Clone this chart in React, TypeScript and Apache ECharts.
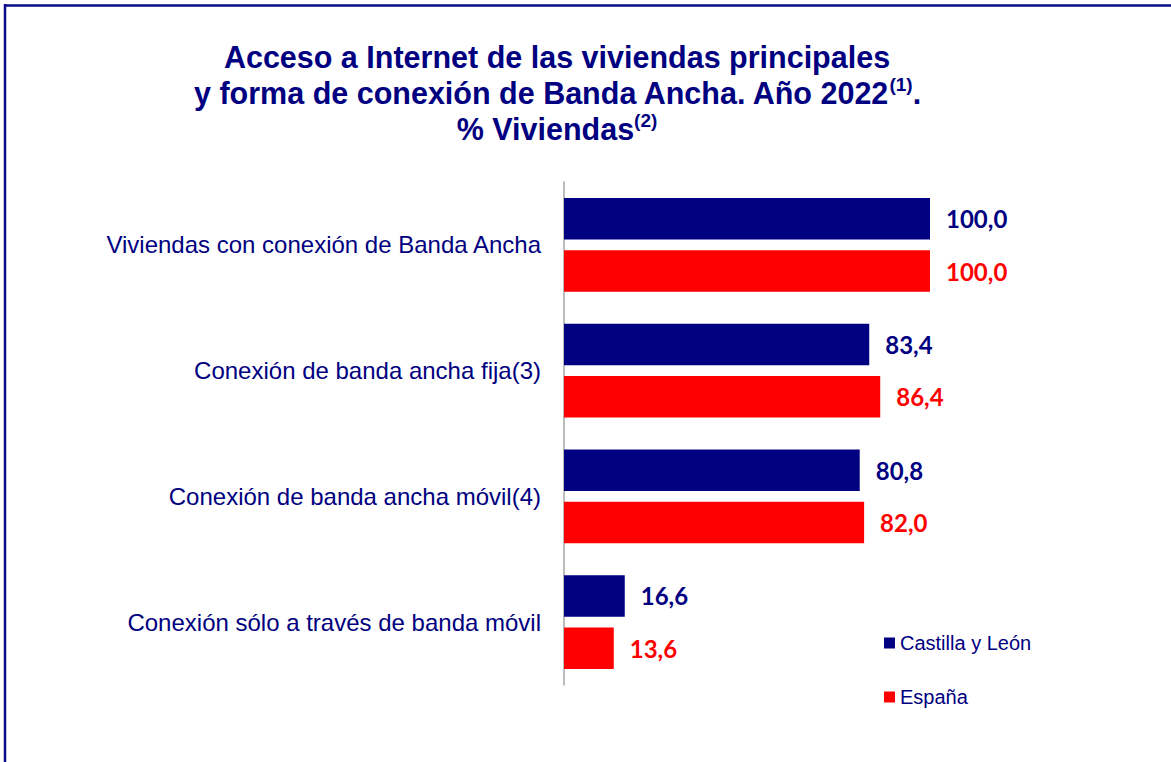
import React, { useEffect, useRef } from "react";
import * as echarts from "echarts";

const categories = [
  "Viviendas con conexión de Banda Ancha",
  "Conexión de banda ancha fija(3)",
  "Conexión de banda ancha móvil(4)",
  "Conexión sólo a través de banda móvil",
];
const seriesNames = ["Castilla y León", "España"];
const castillaLeon = [100.0, 83.4, 80.8, 16.6];
const espana = [100.0, 86.4, 82.0, 13.6];

const NAVY = "#000080";
const RED = "#FF0000";

export default function App() {
  const ref = useRef<HTMLDivElement>(null);
  useEffect(() => {
    document.body.style.margin = "0";
    const chart = echarts.init(ref.current!, null, { renderer: "svg" });
    const fmt = (p: any) => Number(p.value).toFixed(1).replace(".", ",");
    chart.setOption({
      animation: false,
      backgroundColor: "#ffffff",
      title: {
        text:
          "Acceso a Internet de las viviendas principales\ny forma de conexión de Banda Ancha. Año 2022{sup|(1)}.\n% Viviendas{sup|(2)}",
        left: 552,
        top: 34,
        textAlign: "center",
        textStyle: {
          fontFamily: "Liberation Sans, Arial, sans-serif",
          fontWeight: "bold",
          fontSize: 30.5,
          lineHeight: 36,
          color: NAVY,
          rich: {
            sup: {
              fontFamily: "Liberation Sans, Arial, sans-serif",
              fontWeight: "bold",
              fontSize: 19,
              lineHeight: 19,
              verticalAlign: "top",
              color: NAVY,
            },
          },
        },
      },
      graphic: [
        {
          type: "line",
          shape: { x1: 4, y1: 5.5, x2: 1171, y2: 5.5 },
          style: { stroke: "#0a0a8a", lineWidth: 2.5 },
          silent: true,
        },
        {
          type: "line",
          shape: { x1: 5, y1: 4, x2: 5, y2: 762 },
          style: { stroke: "#0a0a8a", lineWidth: 2.5 },
          silent: true,
        },
      ],
      legend: {
        orient: "vertical",
        left: 884,
        top: 633,
        padding: 0,
        itemWidth: 11,
        itemHeight: 11,
        itemGap: 34,
        icon: "rect",
        textStyle: {
          fontFamily: "Liberation Sans, Arial, sans-serif",
          fontSize: 20,
          color: NAVY,
        },
        data: seriesNames,
      },
      grid: { left: 564, right: 241, top: 182, bottom: 77, containLabel: false },
      xAxis: {
        type: "value",
        min: 0,
        max: 100,
        show: false,
      },
      yAxis: {
        type: "category",
        inverse: true,
        data: categories,
        axisLine: { show: true, lineStyle: { color: "#A6A6A6", width: 1.5 } },
        axisTick: { show: false },
        axisLabel: {
          margin: 23,
          fontFamily: "Liberation Sans, Arial, sans-serif",
          fontSize: 24,
          color: NAVY,
        },
      },
      series: [
        {
          name: seriesNames[0],
          type: "bar",
          data: castillaLeon,
          barWidth: 41.5,
          barGap: "26.5%",
          itemStyle: { color: NAVY },
          label: {
            show: true,
            position: "right",
            distance: 16,
            formatter: fmt,
            fontFamily: "Lato, sans-serif",
            fontWeight: "bold",
            fontSize: 24,
            color: NAVY,
          },
        },
        {
          name: seriesNames[1],
          type: "bar",
          data: espana,
          barWidth: 41.5,
          barGap: "26.5%",
          itemStyle: { color: RED },
          label: {
            show: true,
            position: "right",
            distance: 16,
            formatter: fmt,
            fontFamily: "Lato, sans-serif",
            fontWeight: "bold",
            fontSize: 24,
            color: RED,
          },
        },
      ],
    });
    return () => chart.dispose();
  }, []);
  return <div ref={ref} style={{ width: 1171, height: 762 }} />;
}
